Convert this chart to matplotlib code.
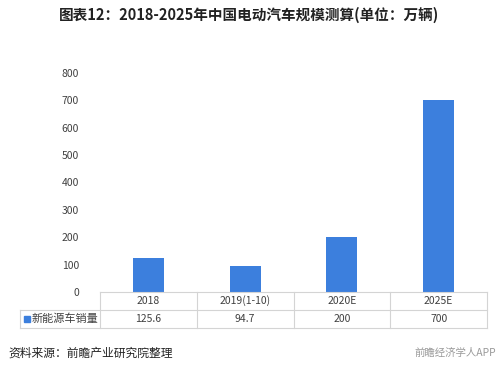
import matplotlib.pyplot as plt
import matplotlib.transforms as mtransforms
from matplotlib.patches import Rectangle

plt.rcParams['font.family'] = ['Noto Sans CJK SC', 'DejaVu Sans']

# data
categories = ["2018", "2019(1-10)", "2020E", "2025E"]
sales = [125.6, 94.7, 200, 700]
sales_labels = ["125.6", "94.7", "200", "700"]
series_name = "新能源车销量"
yticks = [0, 100, 200, 300, 400, 500, 600, 700, 800]

bar_color = "#3C7FDD"
line_color = "#D4D4D4"
text_color = "#404040"

fig = plt.figure(figsize=(4.99, 3.72), dpi=100)
ax = fig.add_axes([100/499, 1-292/372, 387/499, 219/372])

x = list(range(len(categories)))
ax.bar(x, sales, width=0.32, color=bar_color, zorder=2)
ax.set_xlim(-0.5, len(categories) - 0.5)
ax.set_ylim(0, 800)
ax.set_yticks(yticks)
ax.set_yticklabels([str(v) for v in yticks], fontsize=7.5, color=text_color)
ax.tick_params(axis="y", length=0, pad=15)
ax.set_xticks([])
for s in ax.spines.values():
    s.set_visible(False)

# data table under the plot
tr = mtransforms.blended_transform_factory(ax.transData, ax.transAxes)
px = 1 / 96.75  # one pixel in data units
row_h = 18 / 219
left = -0.5 - 80 * px
right = len(categories) - 0.5
# horizontal lines
ax.plot([-0.5, right], [0, 0], color=line_color, lw=0.8, transform=tr, clip_on=False)
for yy in [-row_h, -2 * row_h]:
    ax.plot([left, right], [yy, yy], color=line_color, lw=0.8, transform=tr, clip_on=False)
# vertical lines
ax.plot([left, left], [-row_h, -2 * row_h], color=line_color, lw=0.8, transform=tr, clip_on=False)
for xb in [i - 0.5 for i in range(len(categories) + 1)]:
    ax.plot([xb, xb], [0, -2 * row_h], color=line_color, lw=0.8, transform=tr, clip_on=False)

for i, cat in enumerate(categories):
    ax.text(i, -row_h / 2, cat, ha="center", va="center", fontsize=7.5,
            color=text_color, transform=tr)
    ax.text(i, -1.5 * row_h, sales_labels[i], ha="center", va="center", fontsize=7.5,
            color=text_color, transform=tr)

# legend key in row header
ax.add_patch(Rectangle((left + 4 * px, -1.5 * row_h - 0.014), 6 * px, 0.028,
                       color=bar_color, transform=tr, clip_on=False))
ax.text(left + 12 * px, -1.5 * row_h, series_name, ha="left", va="center", fontsize=8,
        color=text_color, transform=tr)

# title and footer
fig.text(0.5, 1 - 15/372, "图表12：2018-2025年中国电动汽车规模测算(单位：万辆)",
         ha="center", va="center", fontsize=10.5, fontweight="bold", color="#222222")
fig.text(8/499, 1 - 353/372, "资料来源：前瞻产业研究院整理", ha="left", va="center",
         fontsize=8.5, color="#222222")
fig.text(496/499, 1 - 353/372, "前瞻经济学人APP", ha="right", va="center",
         fontsize=7.5, color="#9A9A9A")

plt.savefig("out.png", dpi=100)
